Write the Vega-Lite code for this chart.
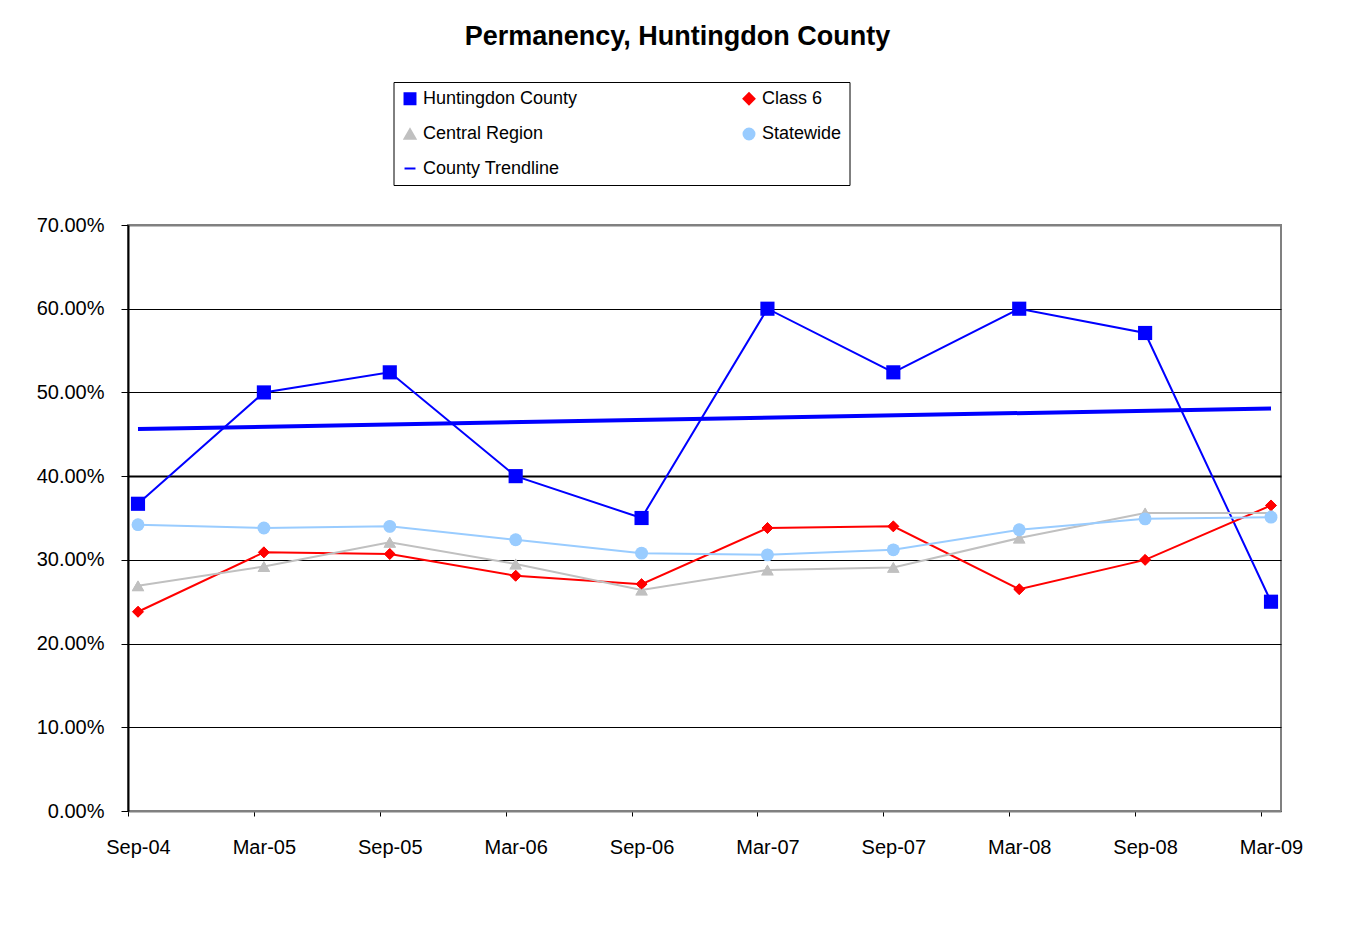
{
  "$schema": "https://vega.github.io/schema/vega-lite/v6.json",
  "width": 1153,
  "height": 586,
  "autosize": "none",
  "padding": {"left": 128, "top": 225, "right": 75, "bottom": 135},
  "background": "white",
  "title": {
    "text": "Permanency, Huntingdon County",
    "anchor": "middle",
    "frame": "group",
    "dx": -27,
    "offset": 10,
    "baseline": "alphabetic",
    "font": "Liberation Sans",
    "fontSize": 27,
    "fontWeight": "bold",
    "color": "black"
  },
  "data": {
    "values": [
      {"date": "Sep-04", "series": "Huntingdon County", "value": 36.7},
      {"date": "Mar-05", "series": "Huntingdon County", "value": 50.0},
      {"date": "Sep-05", "series": "Huntingdon County", "value": 52.4},
      {"date": "Mar-06", "series": "Huntingdon County", "value": 40.0},
      {"date": "Sep-06", "series": "Huntingdon County", "value": 35.0},
      {"date": "Mar-07", "series": "Huntingdon County", "value": 60.0},
      {"date": "Sep-07", "series": "Huntingdon County", "value": 52.4},
      {"date": "Mar-08", "series": "Huntingdon County", "value": 60.0},
      {"date": "Sep-08", "series": "Huntingdon County", "value": 57.1},
      {"date": "Mar-09", "series": "Huntingdon County", "value": 25.0},
      {"date": "Sep-04", "series": "Class 6", "value": 23.8},
      {"date": "Mar-05", "series": "Class 6", "value": 30.9},
      {"date": "Sep-05", "series": "Class 6", "value": 30.7},
      {"date": "Mar-06", "series": "Class 6", "value": 28.1},
      {"date": "Sep-06", "series": "Class 6", "value": 27.1},
      {"date": "Mar-07", "series": "Class 6", "value": 33.8},
      {"date": "Sep-07", "series": "Class 6", "value": 34.0},
      {"date": "Mar-08", "series": "Class 6", "value": 26.5},
      {"date": "Sep-08", "series": "Class 6", "value": 30.0},
      {"date": "Mar-09", "series": "Class 6", "value": 36.5},
      {"date": "Sep-04", "series": "Central Region", "value": 26.9},
      {"date": "Mar-05", "series": "Central Region", "value": 29.2},
      {"date": "Sep-05", "series": "Central Region", "value": 32.1},
      {"date": "Mar-06", "series": "Central Region", "value": 29.5},
      {"date": "Sep-06", "series": "Central Region", "value": 26.4},
      {"date": "Mar-07", "series": "Central Region", "value": 28.8},
      {"date": "Sep-07", "series": "Central Region", "value": 29.1},
      {"date": "Mar-08", "series": "Central Region", "value": 32.6},
      {"date": "Sep-08", "series": "Central Region", "value": 35.6},
      {"date": "Mar-09", "series": "Central Region", "value": 35.6},
      {"date": "Sep-04", "series": "Statewide", "value": 34.2},
      {"date": "Mar-05", "series": "Statewide", "value": 33.8},
      {"date": "Sep-05", "series": "Statewide", "value": 34.0},
      {"date": "Mar-06", "series": "Statewide", "value": 32.4},
      {"date": "Sep-06", "series": "Statewide", "value": 30.8},
      {"date": "Mar-07", "series": "Statewide", "value": 30.6},
      {"date": "Sep-07", "series": "Statewide", "value": 31.2},
      {"date": "Mar-08", "series": "Statewide", "value": 33.6},
      {"date": "Sep-08", "series": "Statewide", "value": 34.9},
      {"date": "Mar-09", "series": "Statewide", "value": 35.1},
      {"date": "Sep-04", "series": "County Trendline", "value": 45.62},
      {"date": "Mar-09", "series": "County Trendline", "value": 48.08}
    ]
  },
  "encoding": {
    "x": {
      "field": "date",
      "type": "ordinal",
      "sort": ["Sep-04", "Mar-05", "Sep-05", "Mar-06", "Sep-06", "Mar-07", "Sep-07", "Mar-08", "Sep-08", "Mar-09"],
      "scale": {"type": "point", "padding": 0.0794},
      "axis": {
        "title": null,
        "labelAngle": 0,
        "labelFont": "Liberation Sans",
        "labelFontSize": 20,
        "labelColor": "black",
        "labelPadding": 21,
        "labelOffset": 10,
        "tickSize": 5,
        "tickColor": "black",
        "tickWidth": 1,
        "tickOffset": -10,
        "domainColor": "#808080",
        "domainWidth": 2,
        "grid": false
      }
    },
    "y": {
      "field": "value",
      "type": "quantitative",
      "scale": {"domain": [0, 70], "nice": false, "zero": true},
      "axis": {
        "title": null,
        "values": [0, 10, 20, 30, 40, 50, 60, 70],
        "labelExpr": "format(datum.value, '.2f') + '%'",
        "labelFont": "Liberation Sans",
        "labelFontSize": 20,
        "labelColor": "black",
        "labelPadding": 17,
        "tickSize": 7,
        "tickColor": "black",
        "domainColor": "black",
        "domainWidth": 2,
        "grid": true,
        "gridColor": {"condition": {"test": "datum.value == 70", "value": "#808080"}, "value": "black"},
        "gridOpacity": 1,
        "gridWidth": {"condition": {"test": "datum.value == 40 || datum.value == 70", "value": 2}, "value": 1}
      }
    }
  },
  "layer": [
    {
      "transform": [{"filter": "datum.series != 'County Trendline'"}],
      "mark": {"type": "point", "filled": true, "size": 120, "strokeWidth": 1, "opacity": 1},
      "encoding": {
        "fill": {"field": "series", "type": "nominal",
          "scale": {"domain": ["Huntingdon County", "Class 6", "Central Region", "Statewide", "County Trendline"],
                    "range": ["#0000FF", "#FF0000", "#C0C0C0", "#99CCFF", "#0000FF"]},
          "legend": {"orient": "none", "legendX": 265.5, "legendY": -143, "columns": 2, "direction": "horizontal", "title": null}},
        "stroke": {"field": "series", "type": "nominal",
          "scale": {"domain": ["Huntingdon County", "Class 6", "Central Region", "Statewide", "County Trendline"],
                    "range": ["#0000FF", "#FF0000", "#C0C0C0", "#99CCFF", "#0000FF"]},
          "legend": {"orient": "none", "legendX": 265.5, "legendY": -143, "columns": 2, "direction": "horizontal", "title": null}},
        "shape": {"field": "series", "type": "nominal",
          "scale": {"domain": ["Huntingdon County", "Class 6", "Central Region", "Statewide", "County Trendline"],
                    "range": ["square", "diamond", "triangle-up", "circle", "stroke"]},
          "legend": {"orient": "none", "legendX": 265.5, "legendY": -143, "columns": 2, "direction": "horizontal", "title": null}}
      }
    },
    {
      "transform": [{"filter": "datum.series == 'County Trendline'"}],
      "mark": {"type": "line", "strokeWidth": 4},
      "encoding": {
        "color": {"field": "series", "type": "nominal", "legend": null,
          "scale": {"domain": ["Huntingdon County", "Class 6", "Central Region", "Statewide", "County Trendline"],
                    "range": ["#0000FF", "#FF0000", "#C0C0C0", "#99CCFF", "#0000FF"]}}
      }
    },
    {
      "transform": [{"filter": "datum.series != 'County Trendline'"}],
      "mark": {"type": "line", "strokeWidth": 2},
      "encoding": {
        "color": {"field": "series", "type": "nominal", "legend": null},
        "detail": {"field": "series"}
      }
    },
    {
      "transform": [{"filter": "datum.series == 'Central Region'"}],
      "mark": {"type": "point", "shape": "triangle-up", "filled": true, "opacity": 1, "size": 160},
      "encoding": {"color": {"field": "series", "type": "nominal", "legend": null}}
    },
    {
      "transform": [{"filter": "datum.series == 'Class 6'"}],
      "mark": {"type": "point", "shape": "diamond", "filled": true, "opacity": 1, "size": 120},
      "encoding": {"color": {"field": "series", "type": "nominal", "legend": null}}
    },
    {
      "transform": [{"filter": "datum.series == 'Statewide'"}],
      "mark": {"type": "point", "shape": "circle", "filled": true, "opacity": 1, "size": 165},
      "encoding": {"color": {"field": "series", "type": "nominal", "legend": null}}
    },
    {
      "transform": [{"filter": "datum.series == 'Huntingdon County'"}],
      "mark": {"type": "point", "shape": "square", "filled": true, "opacity": 1, "size": 200},
      "encoding": {"color": {"field": "series", "type": "nominal", "legend": null}}
    }
  ],
  "config": {
    "view": {"stroke": "#808080", "strokeWidth": 2},
    "legend": {
      "labelFont": "Liberation Sans",
      "labelFontSize": 18,
      "labelColor": "black",
      "labelLimit": 400,
      "symbolSize": 120,
      "symbolStrokeWidth": 2,
      "columnPadding": 161,
      "rowPadding": 15.5,
      "padding": 7.5,
      "strokeColor": "black",
      "strokeWidth": 1,
      "fillColor": "white",
      "cornerRadius": 0
    }
  }
}
